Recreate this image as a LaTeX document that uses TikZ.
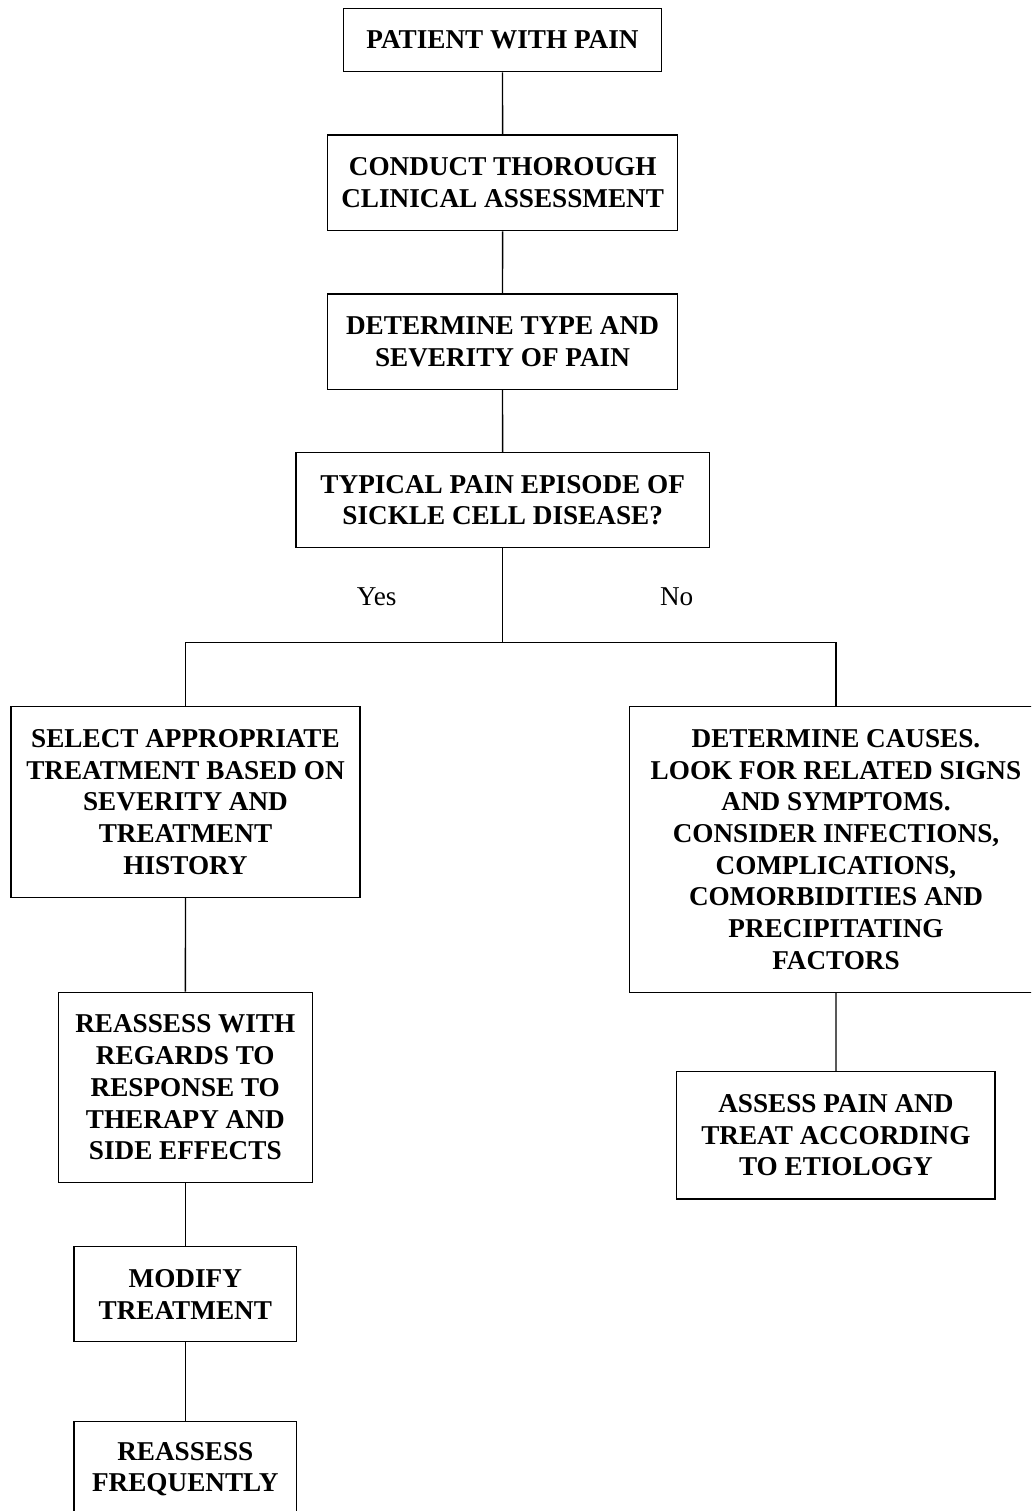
\documentclass[tikz,border=0pt]{standalone}
\usepackage{fontspec}
\setmainfont{Liberation Serif}
\begin{document}
\begin{tikzpicture}[x=1pt,y=-1pt,
  stepbox/.style={draw, line width=1.3pt, inner sep=0pt, align=center,
    font=\fontsize{27.2}{31.7}\selectfont\bfseries},
  link/.style={line width=1.3pt},
  answer/.style={font=\fontsize{27.2}{31.7}\selectfont}]
\useasboundingbox (0,0) rectangle (1031,1511);
\clip (0,0) rectangle (1031,1511);
\fill[white] (0,0) rectangle (1031,1511);

% main column
\node[stepbox, minimum width=318.4pt, minimum height=63.4pt] (pat) at (502.5,40) {PATIENT WITH PAIN};
\node[stepbox, minimum width=350pt, minimum height=95.7pt] (cond) at (502.7,182.8) {CONDUCT THOROUGH\\CLINICAL ASSESSMENT};
\node[stepbox, minimum width=349.6pt, minimum height=95.3pt] (type) at (502.5,341.7) {DETERMINE TYPE AND\\SEVERITY OF PAIN};
\node[stepbox, minimum width=413.3pt, minimum height=95pt] (typ) at (502.7,500.2) {TYPICAL PAIN EPISODE OF\\SICKLE CELL DISEASE?};

% yes branch
\node[stepbox, minimum width=349pt, minimum height=190.6pt] (sel) at (185.5,802) {SELECT APPROPRIATE\\TREATMENT BASED ON\\SEVERITY AND\\TREATMENT\\HISTORY};
\node[stepbox, minimum width=254pt, minimum height=190.4pt] (reas) at (185.3,1087.5) {REASSESS WITH\\REGARDS TO\\RESPONSE TO\\THERAPY AND\\SIDE EFFECTS};
\node[stepbox, minimum width=222.7pt, minimum height=95pt] (mod) at (185.3,1294.2) {MODIFY\\TREATMENT};
\node[stepbox, minimum width=222.7pt, minimum height=95pt] (freq) at (185.3,1469.2) {REASSESS\\FREQUENTLY};

% no branch
\node[stepbox, minimum width=413.4pt, minimum height=285.6pt] (cause) at (836,849.5) {DETERMINE CAUSES.\\LOOK FOR RELATED SIGNS\\AND SYMPTOMS.\\CONSIDER INFECTIONS,\\COMPLICATIONS,\\COMORBIDITIES AND\\PRECIPITATING\\FACTORS};
\node[stepbox, minimum width=318.3pt, minimum height=127.3pt] (asp) at (835.9,1135.4) {ASSESS PAIN AND\\TREAT ACCORDING\\TO ETIOLOGY};

% answer labels
\node[answer] (yes) at (376.7,597) {Yes};
\node[answer] (no) at (676.7,597) {No};

% connectors
\coordinate (jn) at (502.7,642.7);
\coordinate (jl) at (185.5,642.7);
\coordinate (jr) at (836,642.7);
\draw[link] (pat) -- (cond);
\draw[link] (cond) -- (type);
\draw[link] (type) -- (typ);
\draw[link] (typ.south) -- (jn);
\draw[link] (sel.north) -- (jl) -- (jr) -- (cause.north);
\draw[link] (sel) -- (reas);
\draw[link] (reas) -- (mod);
\draw[link] (mod) -- (freq);
\draw[link] (cause.south) -- (asp.north);
\end{tikzpicture}
\end{document}
